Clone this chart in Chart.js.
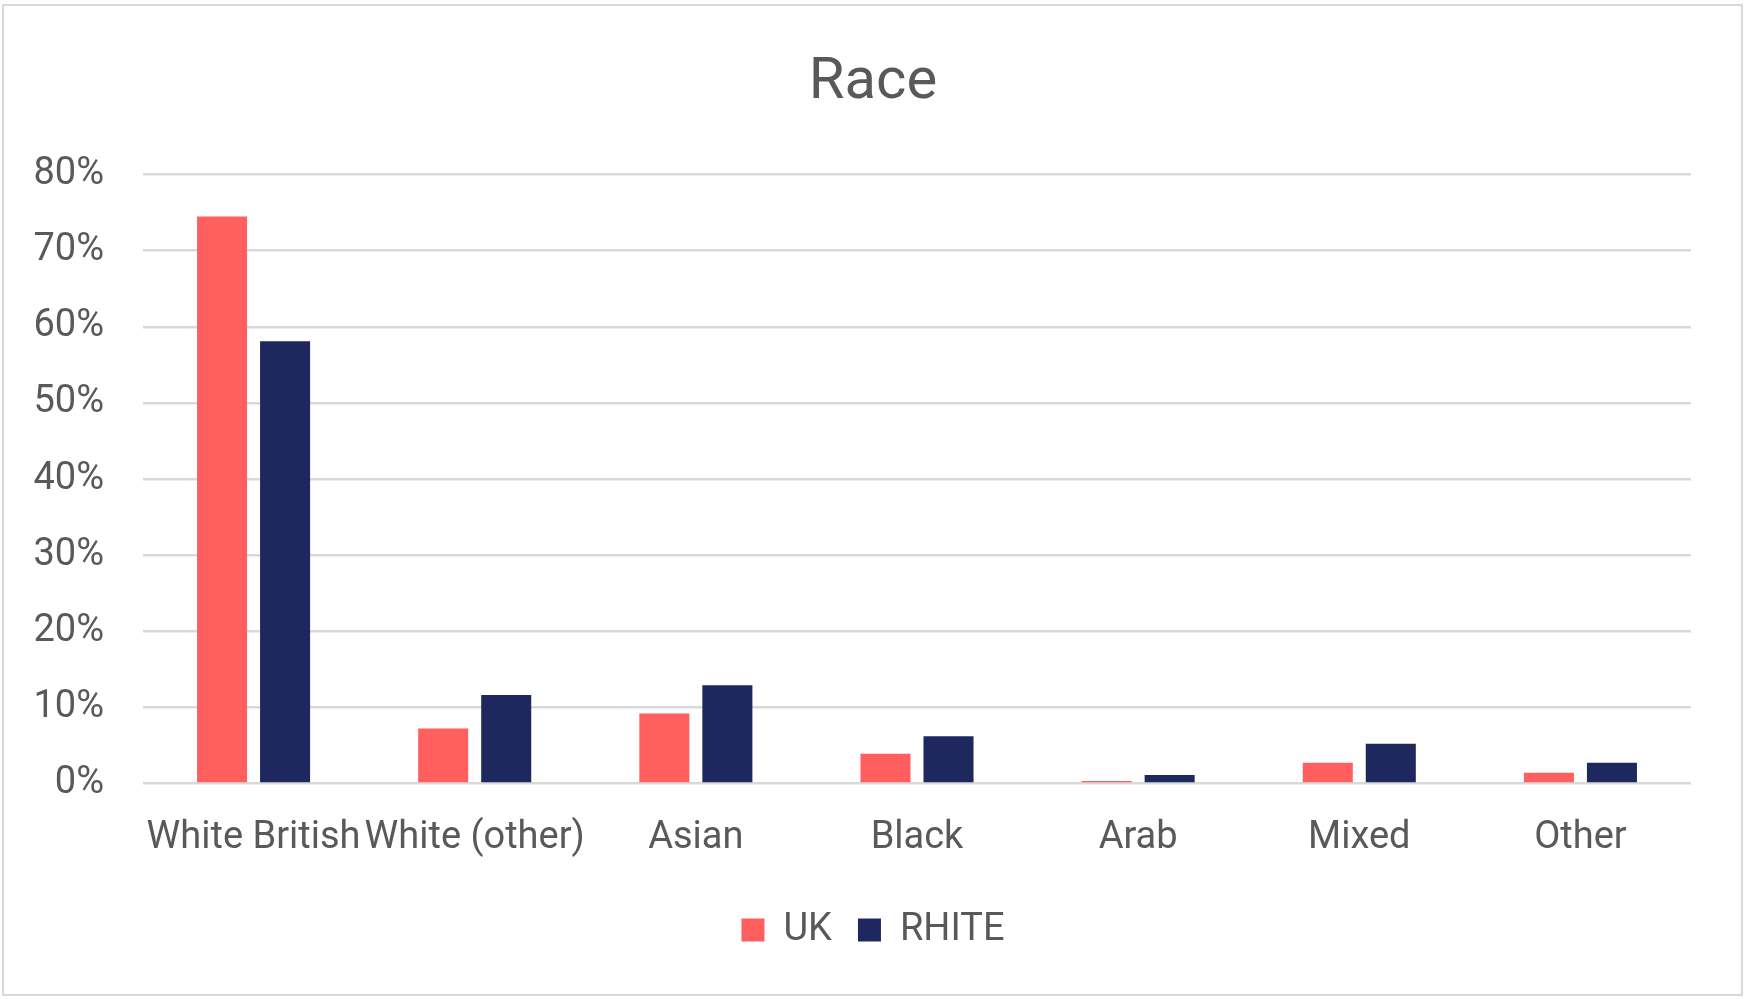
<!DOCTYPE html>
<html>
<head>
<meta charset="utf-8">
<script src="https://cdn.jsdelivr.net/npm/chart.js@4"></script>
<style>
  html, body { margin: 0; padding: 0; background: #fff; }
  #frame {
    position: absolute; left: 2px; top: 4px; width: 1741px; height: 992px;
    box-sizing: border-box; border: 2px solid #d9d9d9;
  }
  #wrap { position: absolute; left: 0; top: 0; width: 1746px; height: 999px; }
</style>
</head>
<body>
<div id="frame"></div>
<div id="wrap"><canvas id="chart"></canvas></div>
<script>
// Race breakdown, UK vs RHITE (percent)
const categories = ["White British", "White (other)", "Asian", "Black", "Arab", "Mixed", "Other"];
const ukValues = [74.5, 7.2, 9.2, 3.9, 0.3, 2.7, 1.4];
const rhiteValues = [58.1, 11.6, 12.9, 6.2, 1.1, 5.2, 2.7];
const yTicks = [0, 10, 20, 30, 40, 50, 60, 70, 80];

const textColor = "#595959";
const fontFamily = "Roboto, 'Open Sans', sans-serif";

function chartRace(ctx) {
  return new Chart(ctx, {
    type: "bar",
    data: {
      labels: categories,
      datasets: [
        {
          label: "UK",
          data: ukValues,
          backgroundColor: "#FF5F5F",
          borderWidth: 0,
          categoryPercentage: 0.57,
          barPercentage: 0.794,
        },
        {
          label: "RHITE",
          data: rhiteValues,
          backgroundColor: "#1E285E",
          borderWidth: 0,
          categoryPercentage: 0.57,
          barPercentage: 0.794,
        },
      ],
    },
    options: {
      responsive: true,
      maintainAspectRatio: false,
      animation: false,
      layout: {
        padding: { left: 0, right: 0, top: 0, bottom: 40 },
      },
      plugins: {
        title: {
          display: true,
          text: "Race",
          color: textColor,
          font: { family: fontFamily, size: 58, weight: "normal" },
          padding: { top: 49, bottom: 56 },
        },
        legend: {
          position: "bottom",
          labels: {
            color: textColor,
            font: { family: fontFamily, size: 38 },
            boxWidth: 23,
            boxHeight: 23,
            padding: 26,
          },
        },
        tooltip: { enabled: false },
      },
      scales: {
        x: {
          grid: { display: false },
          border: { display: false },
          ticks: {
            color: textColor,
            font: { family: fontFamily, size: 38 },
            padding: 24,
            maxRotation: 0,
            autoSkip: false,
          },
        },
        y: {
          min: 0,
          max: 80,
          afterBuildTicks: (scale) => {
            scale.ticks = yTicks.map((v) => ({ value: v }));
          },
          afterFit: (scale) => {
            scale.width = 143;
          },
          grid: { color: "#d9d9d9", lineWidth: 2.5, drawTicks: false },
          border: { display: false },
          ticks: {
            color: textColor,
            font: { family: fontFamily, size: 38 },
            padding: 39,
            callback: (v) => v + "%",
          },
        },
        // empty right-hand spacer so the plot ends where the reference does
        yRight: {
          position: "right",
          min: 0,
          max: 80,
          grid: { display: false },
          border: { display: false },
          ticks: { display: false },
          afterFit: (scale) => {
            scale.width = 55;
          },
        },
      },
    },
  });
}

chartRace(document.getElementById("chart"));
</script>
</body>
</html>
